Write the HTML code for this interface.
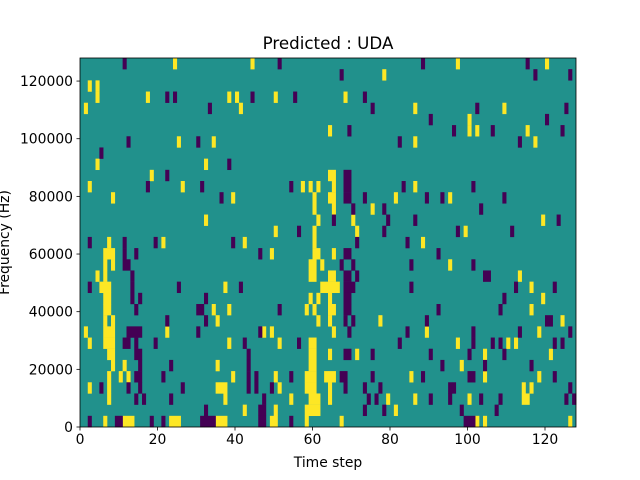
<!DOCTYPE html>
<html><head><meta charset="utf-8"><style>
body{margin:0;background:#fff;}
svg{display:block;font-family:"DejaVu Sans","Liberation Sans",sans-serif;}
</style></head><body>
<svg id="s" width="640" height="480" viewBox="0 0 640 480" xmlns="http://www.w3.org/2000/svg">
<rect x="80" y="58" width="496" height="369" fill="#21918c"/>
<g id="cells"></g>
<rect x="80" y="58" width="496" height="369" fill="none" stroke="#000" stroke-width="0.8"/>
<g id="ticks" stroke="#000" stroke-width="0.8"></g>
<g id="labels" font-size="13.9" fill="#000"></g>
<text x="328" y="49" font-size="16.7" text-anchor="middle">Predicted : UDA</text>
<text x="328" y="467" font-size="13.9" text-anchor="middle">Time step</text>
<text transform="translate(9,242.5) rotate(-90)" font-size="13.9" text-anchor="middle">Frequency (Hz)</text>
</svg>
<script>
var Y={0:"24,44,97,120",1:"78",2:"2,4",3:"4,17,38,40,50,68",4:"1,41,86,109",5:"100",6:"64,100,102,115",7:"25,34,86,117",9:"4,32",10:"18,64-65",11:"2,26,57,59,61,65,86",12:"8,39,60,64-65,81,95",13:"60,65,75",14:"32,61,70,119",15:"50,60,71,99",16:"7,21,42,60,88",17:"6-8,49,60-61,65",18:"6,8,59-60,62,95",19:"4,6,59-60,64-65,113",20:"5-7,37,62-63,64-66,116",21:"6-7,59,61,64,119",22:"6-7,34,38,58,60,64-65,116",23:"6,8,35,61,64,77,124",24:"1,6-8,22,47,49,65,89,118",25:"2,6-8,38,51,59-60,97,110,112",26:"7-8,59-60,64,71,104,121",27:"8,11,35,59-60,98",28:"7,10,12,39,50,58-60,63,64-65,85,104,118",29:"2,7,35-37,51,58-60,64,114,116",30:"7,37,54,59-61,64,79,86,100,114-115",31:"42,50,58-61,81",32:"6,11-13,23-25,35-37,49-50,58,67,102,104,126"};
var P={0:"11,51,88,115",1:"67,117,126",3:"22,24,44,55,73",4:"33,75,102,125",5:"90,120",6:"69,96,106,124",7:"12,30,82,113",8:"5",9:"38",10:"22,68-69",11:"17,31,54,68-69,83,101",12:"36,68-69,73,89,93,109",13:"70,78,103",14:"65,79,86,123",15:"56,78,97,111",16:"2,11,19,39,71,84",17:"11,14,46,68-69,92",18:"11-12,67,70,85,101",19:"13,68-69,71,104-105",20:"2,13,25,41,68-70,85,112,122",21:"13,15,32,68-69,109",22:"14,30-31,51,68-69,92,108",23:"22,32,68,70,89,120-121",24:"12-15,30,46,69,84,101,113,126",25:"11-12,14,19,42,56,82,101,106,108,122,124",26:"14-15,43,68-69,75,90,100,109",27:"15,23,43,93,104,116",28:"14-15,21,43,45,54,67-68,75,88,100-101,122",29:"5,12,15,26,43,45,49,68,73,77,95,96,126",30:"14,16,23,47,74,76,90,95,103,108,125,127",31:"32,46-47,73,78,98,107",32:"2,9-10,18,21,31,32-34,46-47,54,99-101"};
var ns="http://www.w3.org/2000/svg",g=document.getElementById("cells");
var cw=496/128,rh=369/33;
function draw(M,col){for(var r in M){M[r].split(",").forEach(function(t){var a=t.split("-"),c0=+a[0],c1=a.length>1?+a[1]:c0;var e=document.createElementNS(ns,"rect");e.setAttribute("x",80+c0*cw);e.setAttribute("y",58+r*rh);e.setAttribute("width",(c1-c0+1)*cw+0.2);e.setAttribute("height",rh+0.2);e.setAttribute("fill",col);g.appendChild(e);});}}
draw(Y,"#fde725");draw(P,"#440154");
var tk=document.getElementById("ticks"),lb=document.getElementById("labels");
function ln(x1,y1,x2,y2){var e=document.createElementNS(ns,"line");e.setAttribute("x1",x1);e.setAttribute("y1",y1);e.setAttribute("x2",x2);e.setAttribute("y2",y2);tk.appendChild(e);}
function tx(x,y,s,a){var e=document.createElementNS(ns,"text");e.setAttribute("x",x);e.setAttribute("y",y);e.setAttribute("text-anchor",a);e.textContent=s;lb.appendChild(e);}
for(var v=0;v<=120;v+=20){var x=80+v*cw;ln(x,427,x,430.5);tx(x,444,""+v,"middle");}
for(var f=0;f<=120000;f+=20000){var y=427-f*369/128000;ln(80,y,76.5,y);tx(73,y+5,""+f,"end");}
</script>
</body></html>
